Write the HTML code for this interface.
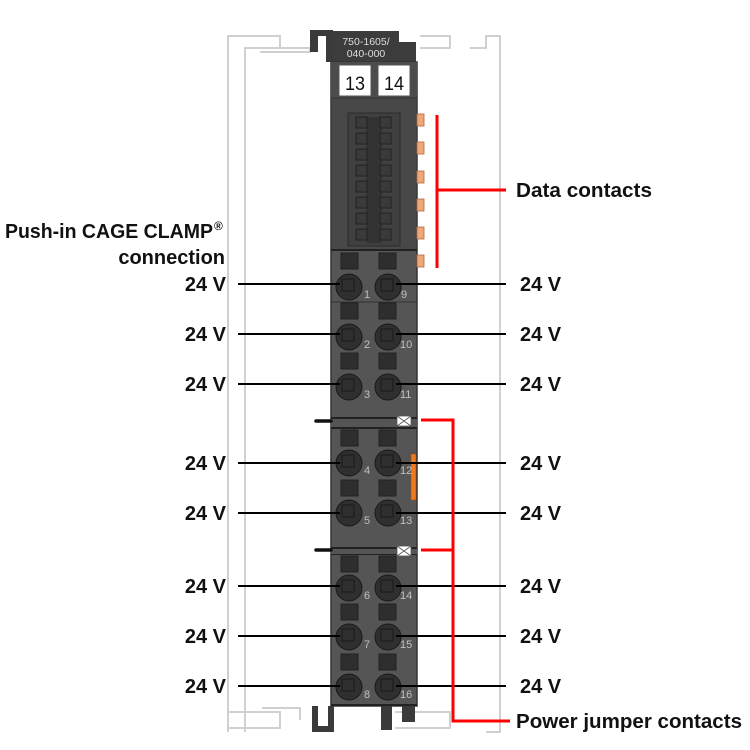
<!DOCTYPE html>
<html><head><style>body{margin:0;background:#fff}svg{display:block}</style></head><body>
<svg width="750" height="750" viewBox="0 0 750 750" xmlns="http://www.w3.org/2000/svg" font-family="Liberation Sans, sans-serif">
<g fill="none" stroke="#d0d0d0" stroke-width="2">
<path d="M228 732 V36 H280 V48 H245 V732"/>
<path d="M262 48 H310 V52 H260"/>
<path d="M420 36 H450 V48 H420"/>
<path d="M470 48 H486 V36 H500 V732 H486"/>
<path d="M228 712 H280 V728 H228"/>
<path d="M262 708 H300 V720"/>
<path d="M395 712 H450 V728 H395"/>
</g>
<path d="M310 30 H333 V62 H326 V36 H318 V52 H310 Z" fill="#3a3a3a"/>
<rect x="333" y="31" width="66" height="32" fill="#3c3c3c"/>
<rect x="398" y="42" width="18" height="22" fill="#3c3c3c"/>
<text x="366" y="45" font-size="10.5" fill="#ddd" text-anchor="middle">750-1605/</text>
<text x="366" y="57" font-size="10.5" fill="#ddd" text-anchor="middle">040-000</text>
<rect x="331" y="62" width="86" height="644" fill="#555" stroke="#333" stroke-width="1.5"/>
<rect x="331" y="62" width="86" height="36" fill="#4c4c4c"/>
<rect x="339" y="65" width="32" height="31" fill="#fff" stroke="#555"/>
<rect x="378" y="65" width="32" height="31" fill="#fff" stroke="#555"/>
<text x="355" y="90" font-size="19" text-anchor="middle" fill="#111" textLength="20" lengthAdjust="spacingAndGlyphs">13</text>
<text x="394" y="90" font-size="19" text-anchor="middle" fill="#111" textLength="20" lengthAdjust="spacingAndGlyphs">14</text>
<rect x="331" y="98" width="86" height="152" fill="#484848" stroke="#333"/>
<rect x="348" y="113" width="52" height="133" fill="#404040" stroke="#2a2a2a"/>
<rect x="366" y="117" width="16" height="126" fill="#333"/>
<g fill="#3a3a3a" stroke="#222">
<rect x="356" y="117" width="11" height="11"/><rect x="380" y="117" width="11" height="11"/>
<rect x="356" y="133" width="11" height="11"/><rect x="380" y="133" width="11" height="11"/>
<rect x="356" y="149" width="11" height="11"/><rect x="380" y="149" width="11" height="11"/>
<rect x="356" y="165" width="11" height="11"/><rect x="380" y="165" width="11" height="11"/>
<rect x="356" y="181" width="11" height="11"/><rect x="380" y="181" width="11" height="11"/>
<rect x="356" y="197" width="11" height="11"/><rect x="380" y="197" width="11" height="11"/>
<rect x="356" y="213" width="11" height="11"/><rect x="380" y="213" width="11" height="11"/>
<rect x="356" y="229" width="11" height="11"/><rect x="380" y="229" width="11" height="11"/>
</g>
<g fill="#f0a878" stroke="#a86a40" stroke-width="0.8">
<rect x="417" y="114" width="7" height="12"/><rect x="417" y="142" width="7" height="12"/>
<rect x="417" y="171" width="7" height="12"/><rect x="417" y="199" width="7" height="12"/>
<rect x="417" y="227" width="7" height="12"/><rect x="417" y="255" width="7" height="12"/>
</g>
<g stroke="#222" stroke-width="2">
<line x1="331" y1="250" x2="417" y2="250"/>
<line x1="331" y1="418" x2="417" y2="418"/>
<line x1="331" y1="428" x2="417" y2="428"/>
<line x1="331" y1="548" x2="417" y2="548"/>
<line x1="331" y1="554" x2="417" y2="554"/>
<line x1="331" y1="705" x2="417" y2="705"/>
</g>
<line x1="331" y1="302" x2="417" y2="302" stroke="#333" stroke-width="1"/>
<rect x="331" y="419" width="86" height="8" fill="#555"/>
<rect x="331" y="549" width="86" height="5" fill="#555"/>
<g fill="#fff" stroke="#555" stroke-width="0.8">
<rect x="397" y="416" width="14" height="10"/><path d="M397 416 L411 426 M411 416 L397 426"/>
<rect x="397" y="546" width="14" height="10"/><path d="M397 546 L411 556 M411 546 L397 556"/>
</g>
<line x1="316" y1="421" x2="331" y2="421" stroke="#111" stroke-width="3.5" stroke-linecap="round"/>
<line x1="316" y1="550" x2="331" y2="550" stroke="#111" stroke-width="3.5" stroke-linecap="round"/>
<rect x="411" y="454" width="5" height="46" fill="#f07a20" stroke="#a04a10" stroke-width="0.6"/>
<rect x="312" y="706" width="22" height="26" fill="#3a3a3a"/><rect x="318" y="706" width="10" height="20" fill="#fff"/>
<rect x="381" y="706" width="11" height="24" fill="#3a3a3a"/>
<rect x="402" y="706" width="13" height="16" fill="#3a3a3a"/>
<g fill="#2e2e2e" stroke="#222">
<rect x="341" y="253" width="17" height="16"/><rect x="379" y="253" width="17" height="16"/>
<rect x="341" y="303" width="17" height="16"/><rect x="379" y="303" width="17" height="16"/>
<rect x="341" y="353" width="17" height="16"/><rect x="379" y="353" width="17" height="16"/>
<rect x="341" y="430" width="17" height="16"/><rect x="379" y="430" width="17" height="16"/>
<rect x="341" y="480" width="17" height="16"/><rect x="379" y="480" width="17" height="16"/>
<rect x="341" y="556" width="17" height="16"/><rect x="379" y="556" width="17" height="16"/>
<rect x="341" y="604" width="17" height="16"/><rect x="379" y="604" width="17" height="16"/>
<rect x="341" y="654" width="17" height="16"/><rect x="379" y="654" width="17" height="16"/>
</g>
<g fill="#2f2f2f" stroke="#1a1a1a">
<circle cx="349" cy="287" r="13"/><circle cx="388" cy="287" r="13"/>
<circle cx="349" cy="337" r="13"/><circle cx="388" cy="337" r="13"/>
<circle cx="349" cy="387" r="13"/><circle cx="388" cy="387" r="13"/>
<circle cx="349" cy="463" r="13"/><circle cx="388" cy="463" r="13"/>
<circle cx="349" cy="513" r="13"/><circle cx="388" cy="513" r="13"/>
<circle cx="349" cy="588" r="13"/><circle cx="388" cy="588" r="13"/>
<circle cx="349" cy="637" r="13"/><circle cx="388" cy="637" r="13"/>
<circle cx="349" cy="687" r="13"/><circle cx="388" cy="687" r="13"/>
</g>
<g fill="none" stroke="#1a1a1a" stroke-width="1">
<rect x="342" y="279" width="12" height="12"/><rect x="381" y="279" width="12" height="12"/>
<rect x="342" y="329" width="12" height="12"/><rect x="381" y="329" width="12" height="12"/>
<rect x="342" y="379" width="12" height="12"/><rect x="381" y="379" width="12" height="12"/>
<rect x="342" y="455" width="12" height="12"/><rect x="381" y="455" width="12" height="12"/>
<rect x="342" y="505" width="12" height="12"/><rect x="381" y="505" width="12" height="12"/>
<rect x="342" y="580" width="12" height="12"/><rect x="381" y="580" width="12" height="12"/>
<rect x="342" y="629" width="12" height="12"/><rect x="381" y="629" width="12" height="12"/>
<rect x="342" y="679" width="12" height="12"/><rect x="381" y="679" width="12" height="12"/>
</g>
<g fill="#c0c0c0" font-size="11">
<text x="364" y="298">1</text><text x="401" y="298">9</text>
<text x="364" y="348">2</text><text x="400" y="348">10</text>
<text x="364" y="398">3</text><text x="400" y="398">11</text>
<text x="364" y="474">4</text><text x="400" y="474">12</text>
<text x="364" y="524">5</text><text x="400" y="524">13</text>
<text x="364" y="599">6</text><text x="400" y="599">14</text>
<text x="364" y="648">7</text><text x="400" y="648">15</text>
<text x="364" y="698">8</text><text x="400" y="698">16</text>
</g>
<g stroke="#000" stroke-width="2">
<line x1="238" y1="284" x2="340" y2="284"/><line x1="396" y1="284" x2="506" y2="284"/>
<line x1="238" y1="334" x2="340" y2="334"/><line x1="396" y1="334" x2="506" y2="334"/>
<line x1="238" y1="384" x2="340" y2="384"/><line x1="396" y1="384" x2="506" y2="384"/>
<line x1="238" y1="463" x2="340" y2="463"/><line x1="396" y1="463" x2="506" y2="463"/>
<line x1="238" y1="513" x2="340" y2="513"/><line x1="396" y1="513" x2="506" y2="513"/>
<line x1="238" y1="586" x2="340" y2="586"/><line x1="396" y1="586" x2="506" y2="586"/>
<line x1="238" y1="636" x2="340" y2="636"/><line x1="396" y1="636" x2="506" y2="636"/>
<line x1="238" y1="686" x2="340" y2="686"/><line x1="396" y1="686" x2="506" y2="686"/>
</g>
<g stroke="#f00" stroke-width="3" fill="none">
<line x1="437" y1="115" x2="437" y2="268"/>
<line x1="437" y1="190" x2="506" y2="190"/>
<path d="M421 420 H453 V721 H510"/>
<line x1="421" y1="550" x2="453" y2="550"/>
</g>
<g font-size="20" font-weight="bold" fill="#111">
<text x="516" y="197" textLength="136" lengthAdjust="spacingAndGlyphs">Data contacts</text>
<text x="516" y="728" textLength="226" lengthAdjust="spacingAndGlyphs">Power jumper contacts</text>
<text x="5" y="238" textLength="208" lengthAdjust="spacingAndGlyphs">Push-in CAGE CLAMP</text><text x="214" y="230" font-size="12">®</text>
<text x="225" y="264" text-anchor="end">connection</text>
<g text-anchor="end">
<text x="226" y="291">24 V</text><text x="226" y="341">24 V</text><text x="226" y="391">24 V</text>
<text x="226" y="470">24 V</text><text x="226" y="520">24 V</text><text x="226" y="593">24 V</text>
<text x="226" y="643">24 V</text><text x="226" y="693">24 V</text>
</g>
<text x="520" y="291">24 V</text><text x="520" y="341">24 V</text><text x="520" y="391">24 V</text>
<text x="520" y="470">24 V</text><text x="520" y="520">24 V</text><text x="520" y="593">24 V</text>
<text x="520" y="643">24 V</text><text x="520" y="693">24 V</text>
</g>
</svg>
</body></html>
